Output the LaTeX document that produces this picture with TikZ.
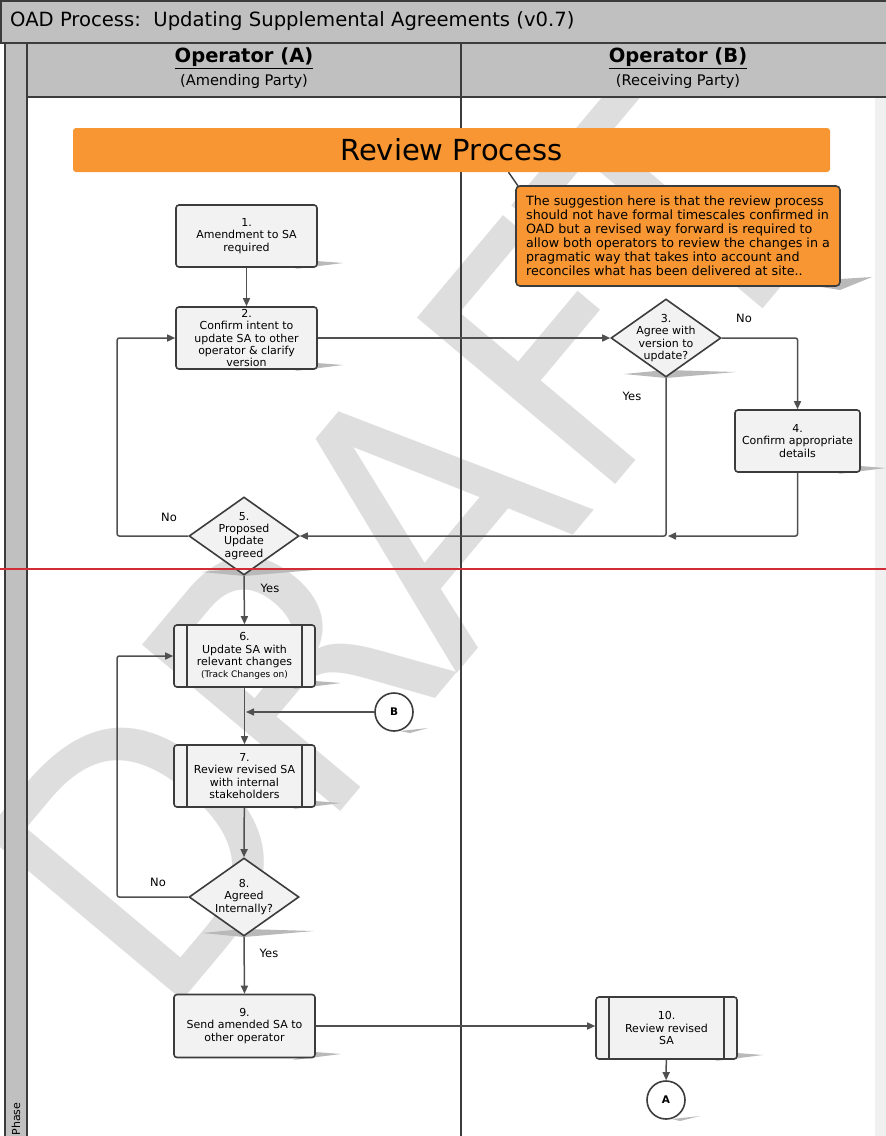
\documentclass[tikz,border=0pt]{standalone}
\usepackage{fontspec}
\setmainfont{DejaVu Sans}
\newfontfamily\wmfont[FakeStretch=0.9]{DejaVu Sans}
\usetikzlibrary{arrows.meta,shapes.geometric}
\definecolor{hdr}{RGB}{192,192,192}
\definecolor{edge}{RGB}{60,60,60}
\definecolor{ln}{RGB}{80,80,80}
\definecolor{nfill}{RGB}{242,242,242}
\definecolor{orng}{RGB}{247,150,50}
\definecolor{wm}{RGB}{222,222,222}
\definecolor{shd}{RGB}{185,185,185}
\definecolor{redl}{RGB}{210,45,55}
\definecolor{rstrip}{RGB}{240,240,240}
\newcommand\bshadow[2]{\fill[shd] (#1-22,#2+2) -- (#1,#2-6) -- (#1+26,#2-4) -- cycle;}
\newcommand\dshadow[2]{\fill[shd] (#1-42,#2-3) -- (#1,#2-7) -- (#1+70,#2-5) -- (#1,#2+1) -- cycle;}
\begin{document}
\begin{tikzpicture}[x=1pt,y=-1pt,
 box/.style={draw=edge, line width=1.6pt, fill=nfill, rounded corners=3pt, minimum width=141pt, minimum height=62pt, inner sep=0pt, align=center, font=\fontsize{11}{12.2}\selectfont},
 dia/.style={draw=edge, line width=1.6pt, fill=nfill, diamond, inner sep=0pt, minimum width=110pt, minimum height=78pt},
 dtxt/.style={align=center, font=\fontsize{11}{12.2}\selectfont, inner sep=0pt},
 conn/.style={draw=edge, line width=1.6pt, fill=white, circle, minimum size=38pt, inner sep=0pt, font=\bfseries\fontsize{10.5}{12}\selectfont},
 arr/.style={draw=ln, line width=1.5pt, -{Triangle[length=8pt,width=7pt]}, rounded corners=2pt},
 lbl/.style={font=\fontsize{11.5}{13}\selectfont, inner sep=0pt},
 bar/.style={draw=edge, line width=1.6pt},
]
\useasboundingbox (0,0) rectangle (886,1136);
% lanes and frame
\fill[white] (0,0) rectangle (886,1136);
\fill[rstrip] (875,97) rectangle (886,1136);
\fill[hdr] (1,1) rectangle (887,43);
\fill[hdr] (5,43) rectangle (27,1137);
\fill[hdr] (27,43) rectangle (887,97);
% watermark
\begin{scope}
\clip (0,97) rectangle (875,1136);
\node[rotate=50, text=wm, inner sep=0pt, font=\wmfont\fontsize{355}{355}\selectfont] (wmark) at (400,540) {DRAFT};
\end{scope}
\fill[hdr] (5,97) rectangle (27,1137);
\draw[edge, line width=1.6pt] (887,1) -- (1,1) -- (1,43) -- (887,43);
\draw[edge, line width=1.6pt] (5,43) -- (5,1137);
\draw[edge, line width=1.6pt] (27,43) -- (27,1137);
\draw[edge, line width=1.6pt] (27,97) -- (887,97);
\draw[edge, line width=1.6pt] (461,43) -- (461,1137);
% header texts
\node[anchor=west, inner sep=0pt, font=\fontsize{19.6}{22}\selectfont] (title) at (10,21) {OAD Process:\ \ Updating Supplemental Agreements (v0.7)};
\node[inner sep=0pt, font=\bfseries\fontsize{19.5}{21}\selectfont] (hA) at (244,58) {\underline{Operator (A)}};
\node[inner sep=0pt, font=\fontsize{14.6}{16}\selectfont] (sA) at (244,81) {(Amending Party)};
\node[inner sep=0pt, font=\bfseries\fontsize{19.5}{21}\selectfont] (hB) at (678,58) {\underline{Operator (B)}};
\node[inner sep=0pt, font=\fontsize{14.6}{16}\selectfont] (sB) at (678,81) {(Receiving Party)};
\node[rotate=90, inner sep=0pt, font=\fontsize{11}{13}\selectfont] (phase) at (16,1119) {Phase};
% banner and callout
\node[fill=orng, rounded corners=3pt, minimum width=757pt, minimum height=44pt, inner sep=0pt, font=\fontsize{29}{31}\selectfont] (banner) at (451.5,150) {Review Process};
\fill[shd] (815,286) -- (840,279) -- (872,277) -- (840,290) -- cycle;
\node[draw=edge, line width=1.6pt, fill=orng, rounded corners=4pt, minimum width=324pt, minimum height=100pt, inner sep=0pt, align=left, font=\fontsize{12.7}{13.9}\selectfont] (note) at (678,236) {The suggestion here is that the review process\\should not have formal timescales confirmed in\\OAD but a revised way forward is required to\\allow both operators to review the changes in a\\pragmatic way that takes into account and\\reconciles what has been delivered at site..};
\draw[edge, line width=1.4pt] ([xshift=57pt]banner.south) -- ([xshift=3pt,yshift=-1pt]note.north west);
% shadows
\bshadow{317}{267}
\bshadow{317}{369}
\bshadow{860}{472}
\bshadow{315}{687}
\bshadow{315}{807}
\bshadow{315}{1058}
\bshadow{737}{1059}
\dshadow{666}{377}
\dshadow{244}{575}
\dshadow{244}{936}
\fill[shd] (400,731) -- (428,728) -- (410,733) -- cycle;
\fill[shd] (672,1119) -- (700,1116) -- (680,1121) -- cycle;
% nodes
\node[box] (b1) at (246.5,236) {1.\\Amendment to SA\\required};
\node[box] (b2) at (246.5,338) {2.\\Confirm intent to\\update SA to other\\operator \& clarify\\version};
\node[dia] (d3) at (666,338) {};
\node[dtxt] (t3) at (d3.center) {3.\\Agree with\\version to\\update?};
\node[box, minimum width=125pt] (b4) at (797.5,441) {4.\\Confirm appropriate\\details};
\node[dia] (d5) at (244,536) {};
\node[dtxt] (t5) at (d5.center) {5.\\Proposed\\Update\\agreed};
\node[box] (p6) at (244.5,656) {6.\\Update SA with\\relevant changes\\{\fontsize{9}{11}\selectfont (Track Changes on)}};
\draw[bar] ([xshift=14pt]p6.north west) -- ([xshift=14pt]p6.south west);
\draw[bar] ([xshift=-14pt]p6.north east) -- ([xshift=-14pt]p6.south east);
\node[box] (p7) at (244.5,776) {7.\\Review revised SA\\with internal\\stakeholders};
\draw[bar] ([xshift=14pt]p7.north west) -- ([xshift=14pt]p7.south west);
\draw[bar] ([xshift=-14pt]p7.north east) -- ([xshift=-14pt]p7.south east);
\node[dia] (d8) at (244,897) {};
\node[dtxt] (t8) at (d8.center) {8.\\Agreed\\Internally?};
\node[box, minimum height=63pt] (b9) at (244.5,1026) {9.\\Send amended SA to\\other operator};
\node[box] (p10) at (666.5,1028) {10.\\Review revised\\SA};
\draw[bar] ([xshift=14pt]p10.north west) -- ([xshift=14pt]p10.south west);
\draw[bar] ([xshift=-14pt]p10.north east) -- ([xshift=-14pt]p10.south east);
\node[conn] (cB) at (394,712) {B};
\node[conn] (cA) at (666,1100) {A};
\coordinate (jB) at (246,712);
\coordinate (j4) at (668,536);
% connectors
\draw[arr] (b1) -- (b2);
\draw[arr] (b2) -- (d3.west);
\draw[arr] (d3.east) -| (b4.north);
\draw[arr] (d3.south) |- (d5.east);
\draw[arr] (b4.south) |- (j4);
\draw[arr] (d5.west) -- ++(-71,0) |- (b2.west);
\draw[arr] (d5.south) -- (p6.north);
\draw[arr] (p6) -- (p7);
\draw[arr] (cB) -- (jB);
\draw[arr] (p7) -- (d8.north);
\draw[arr] (d8.west) -- ++(-71,0) |- (p6.west);
\draw[arr] (d8.south) -- (b9.north);
\draw[arr] (b9.east) -- (b9.east -| p10.west);
\draw[arr] (p10) -- (cA);
% labels
\node[lbl] (l1) at (744,318) {No};
\node[lbl] (l2) at (632,396) {Yes};
\node[lbl] (l3) at (169,517) {No};
\node[lbl] (l4) at (270,588) {Yes};
\node[lbl] (l5) at (158,882) {No};
\node[lbl] (l6) at (269,953) {Yes};
% red line
\draw[redl, line width=1.2pt] (0,569) -- (886,569);
\end{tikzpicture}
\end{document}
